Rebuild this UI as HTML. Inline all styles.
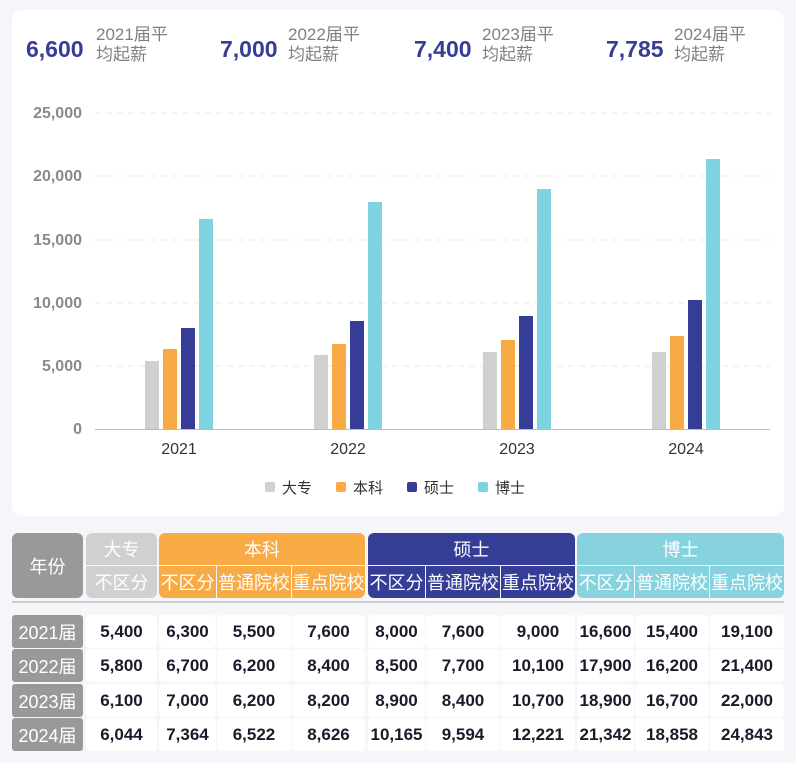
<!DOCTYPE html>
<html><head><meta charset="utf-8"><style>
*{margin:0;padding:0;box-sizing:border-box}
body{width:796px;height:763px;background:#f5f6fa;position:relative;overflow:hidden;font-family:"Liberation Sans","Noto Sans CJK SC",sans-serif}
.card{position:absolute;left:12px;top:10px;width:772px;height:506px;background:#fff;border-radius:10px}
.kv{position:absolute;top:25px;height:40px}
.kv b{position:absolute;top:11px;font-size:23px;color:#353d96;font-weight:bold;white-space:nowrap}
.kv span{position:absolute;top:0;font-size:17px;line-height:20px;color:#808080;white-space:nowrap}
.c{position:absolute;display:flex;align-items:center;justify-content:center;white-space:nowrap}
.h{color:#fff;font-size:18px}
.d{background:#fff;border-radius:4px;font-weight:bold;font-size:17px;color:#1a1a2a}
.y{background:#999;color:#fff;font-size:18px;border-radius:3px}
</style></head><body>
<div class="card"></div>
<div class="kv" style="left:26px"><b style="left:0">6,600</b><span style="left:70px">2021届平<br>均起薪</span></div>
<div class="kv" style="left:220px"><b style="left:0">7,000</b><span style="left:68px">2022届平<br>均起薪</span></div>
<div class="kv" style="left:414px"><b style="left:0">7,400</b><span style="left:68px">2023届平<br>均起薪</span></div>
<div class="kv" style="left:606px"><b style="left:0">7,785</b><span style="left:68px">2024届平<br>均起薪</span></div>
<svg style="position:absolute;left:0;top:0" width="796" height="520">
<g stroke="#e8eaf2" stroke-dasharray="6,5" stroke-width="1">
<line x1="95" x2="770" y1="113" y2="113"/><line x1="95" x2="770" y1="176" y2="176"/><line x1="95" x2="770" y1="240" y2="240"/><line x1="95" x2="770" y1="303" y2="303"/><line x1="95" x2="770" y1="366" y2="366"/></g>
<line x1="95" x2="770" y1="429.5" y2="429.5" stroke="#bbb"/>
<g font-size="16" fill="#8a8a8a" font-weight="bold" text-anchor="end" font-family="Liberation Sans">
<text x="82" y="118">25,000</text><text x="82" y="181">20,000</text><text x="82" y="245">15,000</text><text x="82" y="308">10,000</text><text x="82" y="371">5,000</text><text x="82" y="434">0</text></g>
<g font-size="16" fill="#333" text-anchor="middle" font-family="Liberation Sans">
<text x="179" y="454">2021</text><text x="348" y="454">2022</text><text x="517" y="454">2023</text><text x="686" y="454">2024</text></g>
<g font-size="15" fill="#333" font-family="Liberation Sans,Noto Sans CJK SC">
<rect x="265" y="482" width="10" height="10" rx="2" fill="#d0d0d0"/><text x="282" y="493">大专</text>
<rect x="336" y="482" width="10" height="10" rx="2" fill="#f8aa45"/><text x="353" y="493">本科</text>
<rect x="407" y="482" width="10" height="10" rx="2" fill="#353d96"/><text x="424" y="493">硕士</text>
<rect x="478" y="482" width="10" height="10" rx="2" fill="#7dd3df"/><text x="495" y="493">博士</text></g>
<g>
<rect x="145" y="361" width="14" height="68" fill="#d0d0d0"/><rect x="163" y="349" width="14" height="80" fill="#f8aa45"/><rect x="181" y="328" width="14" height="101" fill="#353d96"/><rect x="199" y="219" width="14" height="210" fill="#7dd3df"/>
<rect x="314" y="355" width="14" height="74" fill="#d0d0d0"/><rect x="332" y="344" width="14" height="85" fill="#f8aa45"/><rect x="350" y="321" width="14" height="108" fill="#353d96"/><rect x="368" y="202" width="14" height="227" fill="#7dd3df"/>
<rect x="483" y="352" width="14" height="77" fill="#d0d0d0"/><rect x="501" y="340" width="14" height="89" fill="#f8aa45"/><rect x="519" y="316" width="14" height="113" fill="#353d96"/><rect x="537" y="189" width="14" height="240" fill="#7dd3df"/>
<rect x="652" y="352" width="14" height="77" fill="#d0d0d0"/><rect x="670" y="336" width="14" height="93" fill="#f8aa45"/><rect x="688" y="300" width="14" height="129" fill="#353d96"/><rect x="706" y="159" width="14" height="270" fill="#7dd3df"/>
</g>
</svg>
<div class="c h" style="left:12px;top:533px;width:71px;height:65px;background:#999;border-radius:6px">年份</div>
<div class="c h" style="left:86px;top:533px;width:71px;height:32px;background:#d0d0d0;border-radius:6px 6px 0 0">大专</div>
<div class="c h" style="left:86px;top:566px;width:71px;height:32px;background:#d0d0d0;border-radius:0 0 6px 6px">不区分</div>
<div class="c h" style="left:159px;top:533px;width:206px;height:32px;background:#f8aa45;border-radius:6px 6px 0 0">本科</div>
<div class="c h" style="left:159px;top:566px;width:57px;height:32px;background:#f8aa45;border-radius:0 0 0 6px">不区分</div>
<div class="c h" style="left:217px;top:566px;width:74px;height:32px;background:#f8aa45">普通院校</div>
<div class="c h" style="left:292px;top:566px;width:73px;height:32px;background:#f8aa45;border-radius:0 0 6px 0">重点院校</div>
<div class="c h" style="left:368px;top:533px;width:207px;height:32px;background:#353d96;border-radius:6px 6px 0 0">硕士</div>
<div class="c h" style="left:368px;top:566px;width:57px;height:32px;background:#353d96;border-radius:0 0 0 6px">不区分</div>
<div class="c h" style="left:426px;top:566px;width:74px;height:32px;background:#353d96">普通院校</div>
<div class="c h" style="left:501px;top:566px;width:74px;height:32px;background:#353d96;border-radius:0 0 6px 0">重点院校</div>
<div class="c h" style="left:577px;top:533px;width:207px;height:32px;background:#86d3df;border-radius:6px 6px 0 0">博士</div>
<div class="c h" style="left:577px;top:566px;width:57px;height:32px;background:#86d3df;border-radius:0 0 0 6px">不区分</div>
<div class="c h" style="left:635px;top:566px;width:74px;height:32px;background:#86d3df">普通院校</div>
<div class="c h" style="left:710px;top:566px;width:74px;height:32px;background:#86d3df;border-radius:0 0 6px 0">重点院校</div>
<div style="position:absolute;left:12px;top:601px;width:772px;height:2px;background:#ccc"></div>
<div class="c y" style="left:12px;top:615px;width:71px;height:33px">2021届</div>
<div class="c y" style="left:12px;top:649px;width:71px;height:33px">2022届</div>
<div class="c y" style="left:12px;top:684px;width:71px;height:33px">2023届</div>
<div class="c y" style="left:12px;top:718px;width:71px;height:33px">2024届</div>

<div class="c d" style="left:86px;top:615px;width:71px;height:33px">5,400</div>
<div class="c d" style="left:159px;top:615px;width:57px;height:33px">6,300</div>
<div class="c d" style="left:217px;top:615px;width:74px;height:33px">5,500</div>
<div class="c d" style="left:292px;top:615px;width:73px;height:33px">7,600</div>
<div class="c d" style="left:368px;top:615px;width:57px;height:33px">8,000</div>
<div class="c d" style="left:426px;top:615px;width:74px;height:33px">7,600</div>
<div class="c d" style="left:501px;top:615px;width:74px;height:33px">9,000</div>
<div class="c d" style="left:577px;top:615px;width:57px;height:33px">16,600</div>
<div class="c d" style="left:635px;top:615px;width:74px;height:33px">15,400</div>
<div class="c d" style="left:710px;top:615px;width:74px;height:33px">19,100</div>

<div class="c d" style="left:86px;top:649px;width:71px;height:33px">5,800</div>
<div class="c d" style="left:159px;top:649px;width:57px;height:33px">6,700</div>
<div class="c d" style="left:217px;top:649px;width:74px;height:33px">6,200</div>
<div class="c d" style="left:292px;top:649px;width:73px;height:33px">8,400</div>
<div class="c d" style="left:368px;top:649px;width:57px;height:33px">8,500</div>
<div class="c d" style="left:426px;top:649px;width:74px;height:33px">7,700</div>
<div class="c d" style="left:501px;top:649px;width:74px;height:33px">10,100</div>
<div class="c d" style="left:577px;top:649px;width:57px;height:33px">17,900</div>
<div class="c d" style="left:635px;top:649px;width:74px;height:33px">16,200</div>
<div class="c d" style="left:710px;top:649px;width:74px;height:33px">21,400</div>

<div class="c d" style="left:86px;top:684px;width:71px;height:33px">6,100</div>
<div class="c d" style="left:159px;top:684px;width:57px;height:33px">7,000</div>
<div class="c d" style="left:217px;top:684px;width:74px;height:33px">6,200</div>
<div class="c d" style="left:292px;top:684px;width:73px;height:33px">8,200</div>
<div class="c d" style="left:368px;top:684px;width:57px;height:33px">8,900</div>
<div class="c d" style="left:426px;top:684px;width:74px;height:33px">8,400</div>
<div class="c d" style="left:501px;top:684px;width:74px;height:33px">10,700</div>
<div class="c d" style="left:577px;top:684px;width:57px;height:33px">18,900</div>
<div class="c d" style="left:635px;top:684px;width:74px;height:33px">16,700</div>
<div class="c d" style="left:710px;top:684px;width:74px;height:33px">22,000</div>

<div class="c d" style="left:86px;top:718px;width:71px;height:33px">6,044</div>
<div class="c d" style="left:159px;top:718px;width:57px;height:33px">7,364</div>
<div class="c d" style="left:217px;top:718px;width:74px;height:33px">6,522</div>
<div class="c d" style="left:292px;top:718px;width:73px;height:33px">8,626</div>
<div class="c d" style="left:368px;top:718px;width:57px;height:33px">10,165</div>
<div class="c d" style="left:426px;top:718px;width:74px;height:33px">9,594</div>
<div class="c d" style="left:501px;top:718px;width:74px;height:33px">12,221</div>
<div class="c d" style="left:577px;top:718px;width:57px;height:33px">21,342</div>
<div class="c d" style="left:635px;top:718px;width:74px;height:33px">18,858</div>
<div class="c d" style="left:710px;top:718px;width:74px;height:33px">24,843</div>
</body></html>
